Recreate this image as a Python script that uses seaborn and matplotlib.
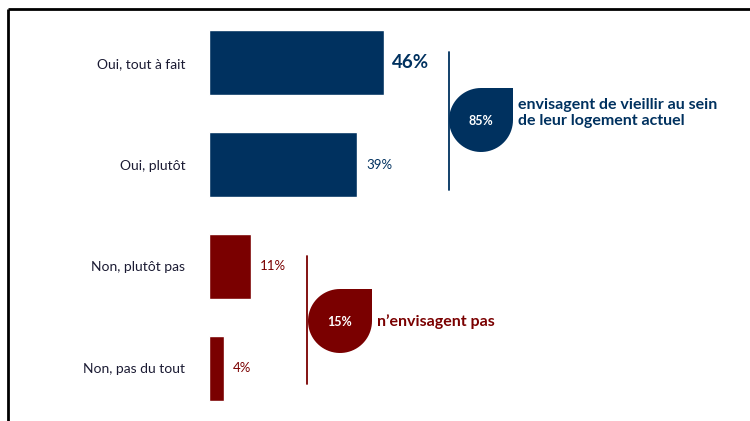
import numpy as np
import pandas as pd
import matplotlib
matplotlib.use("Agg")
import matplotlib.pyplot as plt
import seaborn as sns
from matplotlib.patches import Polygon

# data
categories = ["Oui, tout à fait", "Oui, plutôt", "Non, plutôt pas", "Non, pas du tout"]
values = [46, 39, 11, 4]
groups = ["oui", "oui", "non", "non"]
value_labels = ["46%", "39%", "11%", "4%"]
oui_text = "envisagent de vieillir au sein\nde leur logement actuel"
non_text = "n\u2019envisagent pas"

blue = "#00315f"
red = "#7a0000"
group_colors = {"oui": blue, "non": red}

df = pd.DataFrame({"cat": categories, "val": values, "grp": groups})

sns.set_style("white")
plt.rcParams["font.family"] = ["Lato", "DejaVu Sans"]

fig = plt.figure(figsize=(7.5, 4.21), dpi=100)
W, H = 750, 421

# bar axes, placed in pixel units
left, top, bottom = 209, 12, 419
ax = fig.add_axes([left / W, 1 - bottom / H, 380 / W, (bottom - top) / H])
sns.barplot(data=df, x="val", y="cat", hue="grp", palette=group_colors,
            legend=False, width=0.64, orient="h", ax=ax, dodge=False,
            saturation=1)
ax.set_xlim(0, 100)
ax.set_ylim(3.5, -0.5)
ax.set_xlabel("")
ax.set_ylabel("")
ax.set_xticks([])
sns.despine(ax=ax, left=True, bottom=True)
ax.tick_params(axis="y", length=0, pad=17, labelsize=10, labelcolor="#1b1b33")

# value labels
for i, (v, lab, g) in enumerate(zip(values, value_labels, groups)):
    if i == 0:
        ax.text(v + 2.1, i, lab, va="center", ha="left", fontsize=13.5,
                fontweight="bold", color=blue)
    else:
        ax.text(v + 2.3, i, lab, va="center", ha="left", fontsize=9.5,
                color=group_colors[g])

# overlay axes in pixel coords for frame, brackets and drops
ov = fig.add_axes([0, 0, 1, 1], facecolor="none")
ov.set_xlim(0, W)
ov.set_ylim(H, 0)
ov.axis("off")

# frame
ov.plot([8, W], [9, 9], color="black", lw=2, solid_capstyle="butt")
ov.plot([8, 8], [9, H], color="black", lw=2, solid_capstyle="butt")


def drop(cx, cy, r, color):
    th = np.linspace(0, 1.5 * np.pi, 60)
    pts = np.column_stack([cx + r * np.cos(th), cy + r * np.sin(th)])
    pts = np.vstack([pts, [cx + r, cy - r]])
    ov.add_patch(Polygon(pts, closed=True, color=color, lw=0))


oui_total = sum(v for v, g in zip(values, groups) if g == "oui")
non_total = sum(v for v, g in zip(values, groups) if g == "non")

# oui bracket
ov.plot([449, 449], [52, 190], color=blue, lw=1.3)
drop(481, 120, 32, blue)
ov.text(481, 121, f"{oui_total}%", color="white", fontsize=9, fontweight="bold",
        ha="center", va="center")
ov.text(518, 113, oui_text, color=blue, fontsize=11.5, fontweight="bold",
        ha="left", va="center", linespacing=1.25)

# non bracket
ov.plot([307, 307], [256, 384], color=red, lw=1.3)
drop(340, 321, 32, red)
ov.text(340, 322, f"{non_total}%", color="white", fontsize=9, fontweight="bold",
        ha="center", va="center")
ov.text(377, 322, non_text, color=red, fontsize=11.5, fontweight="bold",
        ha="left", va="center")

fig.savefig("out.png", dpi=100)
